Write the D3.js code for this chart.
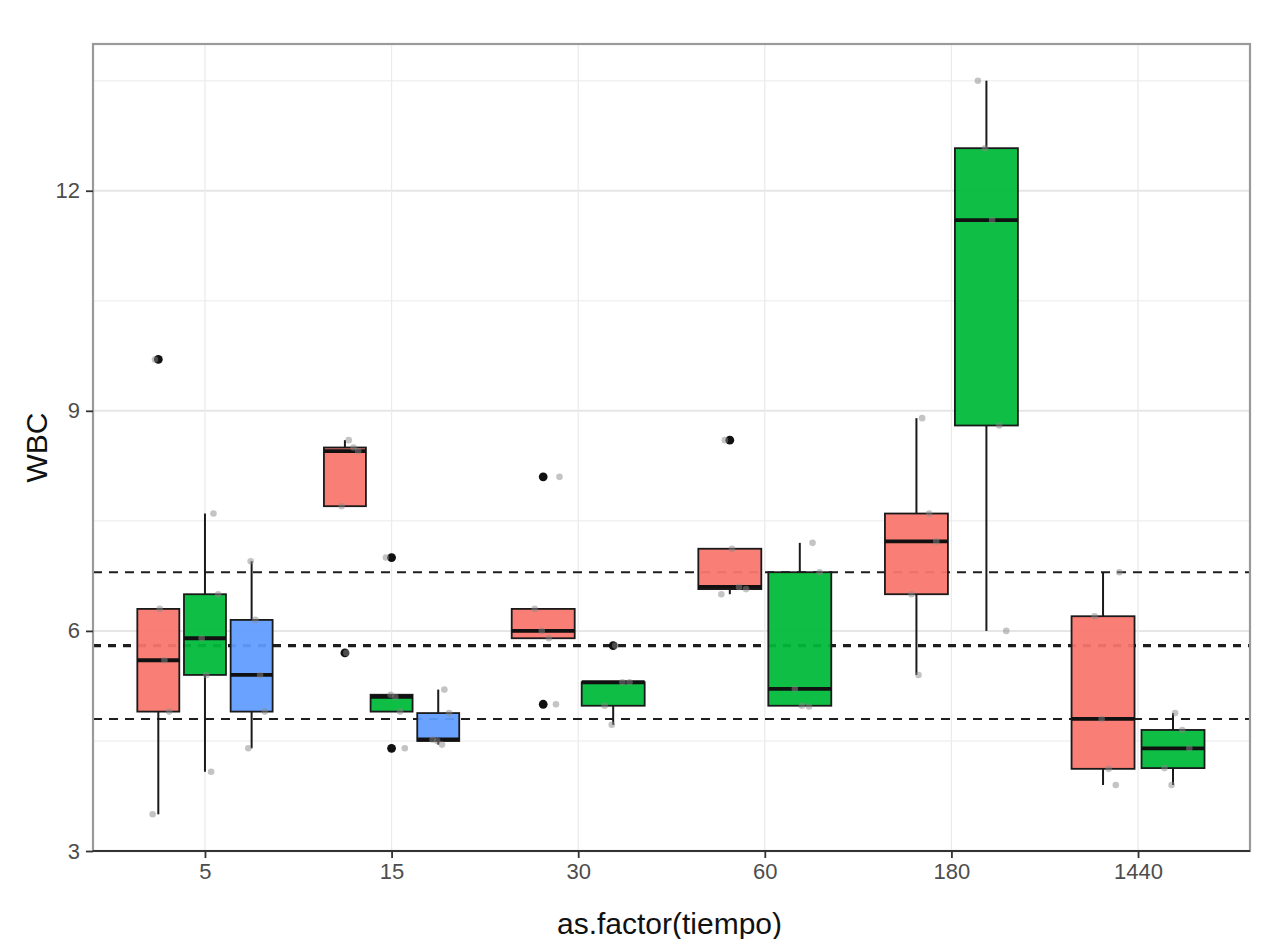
<!DOCTYPE html>
<html>
<head>
<meta charset="utf-8">
<script src="https://cdn.jsdelivr.net/npm/d3@7"></script>
<style>
  body { margin: 0; background: #ffffff; }
  text { font-family: "Liberation Sans", Arial, sans-serif; }
</style>
</head>
<body>
<svg id="chart" width="1263" height="939"></svg>
<script>
// WBC by time point, one series per group
const tiempos = ["5", "15", "30", "60", "180", "1440"];
const grupos = ["A", "B", "C"];
const colores = ["#F8766D", "#00BA38", "#619CFF"];

const wbcA = [
  [3.5, 4.9, 5.6, 6.3, 9.7],
  [5.7, 7.7, 8.45, 8.5, 8.6],
  [5.0, 5.9, 6.0, 6.3, 8.1],
  [6.5, 6.57, 6.6, 7.12, 8.6],
  [5.4, 6.5, 7.22, 7.6, 8.9],
  [3.9, 4.12, 4.8, 6.2, 6.8]
];
const wbcB = [
  [4.08, 5.4, 5.9, 6.5, 7.6],
  [4.4, 4.9, 5.1, 5.13, 7.0],
  [4.72, 4.98, 5.3, 5.3, 5.8],
  [4.97, 4.98, 5.21, 6.8, 7.2],
  [6.0, 8.8, 11.6, 12.58, 13.5],
  [3.9, 4.13, 4.4, 4.65, 4.88]
];
const wbcC = [
  [4.4, 4.9, 5.4, 6.15, 6.95],
  [4.45, 4.5, 4.52, 4.88, 5.2],
  null, null, null, null
];
const series = [wbcA, wbcB, wbcC];

// horizontal reference levels
const referencias = [4.8, 5.8, 6.8];
const referenciaCentral = 5.8;

const yTicks = [3, 6, 9, 12];
const yMinor = [4.5, 7.5, 10.5, 13.5];

const svg = d3.select("#chart");
const panel = { left: 93, right: 1250, top: 44, bottom: 851 };

const x = d3.scalePoint().domain(tiempos).range([panel.left, panel.right]).padding(0.6);
const y = d3.scaleLinear().domain([3, 14]).range([panel.bottom, panel.top]);
const step = x.step();

// grid
const grid = svg.append("g");
grid.selectAll("line.minor").data(yMinor).join("line")
  .attr("x1", panel.left).attr("x2", panel.right)
  .attr("y1", d => y(d)).attr("y2", d => y(d))
  .attr("stroke", "#f1f1f1").attr("stroke-width", 1.5);
grid.selectAll("line.major").data(yTicks.slice(1)).join("line")
  .attr("x1", panel.left).attr("x2", panel.right)
  .attr("y1", d => y(d)).attr("y2", d => y(d))
  .attr("stroke", "#e6e6e6").attr("stroke-width", 2);
grid.selectAll("line.vert").data(tiempos).join("line")
  .attr("x1", d => x(d)).attr("x2", d => x(d))
  .attr("y1", panel.top).attr("y2", panel.bottom)
  .attr("stroke", "#ebebeb").attr("stroke-width", 1.3);

// reference lines
svg.append("g").selectAll("line").data(referencias).join("line")
  .attr("x1", panel.left).attr("x2", panel.right)
  .attr("y1", d => y(d)).attr("y2", d => y(d))
  .attr("stroke", "#1e1e1e")
  .attr("stroke-width", d => d === referenciaCentral ? 3.2 : 1.9)
  .attr("stroke-dasharray", d => d === referenciaCentral ? "8,7" : "9,7");

// boxplots
const cajas = [];
tiempos.forEach((t, ti) => {
  const presentes = series.map((s, gi) => ({ gi, vals: s[ti] })).filter(d => d.vals);
  const n = presentes.length;
  const slot = 0.75 * step / n;
  presentes.forEach((p, k) => {
    const vals = p.vals.slice().sort(d3.ascending);
    const q1 = d3.quantile(vals, 0.25);
    const med = d3.quantile(vals, 0.5);
    const q3 = d3.quantile(vals, 0.75);
    const iqr = q3 - q1;
    const inliers = vals.filter(v => v >= q1 - 1.5 * iqr && v <= q3 + 1.5 * iqr);
    const outliers = vals.filter(v => v < q1 - 1.5 * iqr || v > q3 + 1.5 * iqr);
    cajas.push({
      ti, gi: p.gi, vals, q1, med, q3,
      lo: d3.min(inliers), hi: d3.max(inliers), outliers,
      cx: x(t) + (k - (n - 1) / 2) * slot,
      w: 0.9 * slot
    });
  });
});

const g = svg.append("g");
cajas.forEach(c => {
  const b = g.append("g");
  b.append("line").attr("x1", c.cx).attr("x2", c.cx)
    .attr("y1", y(c.hi)).attr("y2", y(c.q3))
    .attr("stroke", "#1a1a1a").attr("stroke-width", 2);
  b.append("line").attr("x1", c.cx).attr("x2", c.cx)
    .attr("y1", y(c.q1)).attr("y2", y(c.lo))
    .attr("stroke", "#1a1a1a").attr("stroke-width", 2);
  b.append("rect")
    .attr("x", c.cx - c.w / 2).attr("width", c.w)
    .attr("y", y(c.q3)).attr("height", Math.max(1, y(c.q1) - y(c.q3)))
    .attr("fill", colores[c.gi]).attr("fill-opacity", 0.94)
    .attr("stroke", "#1a1a1a").attr("stroke-width", 1.8);
  b.append("line").attr("x1", c.cx - c.w / 2).attr("x2", c.cx + c.w / 2)
    .attr("y1", y(c.med)).attr("y2", y(c.med))
    .attr("stroke", "#111").attr("stroke-width", 3.8);
  b.selectAll("circle").data(c.outliers).join("circle")
    .attr("cx", c.cx).attr("cy", d => y(d)).attr("r", 4.4)
    .attr("fill", "#111");
});

// jittered raw observations
const jitter = (i, ti, gi) => ((((i * 7 + ti * 3 + gi * 5) % 9) / 8) - 0.3) * 0.45;
cajas.forEach(c => {
  g.append("g").selectAll("circle").data(c.vals).join("circle")
    .attr("cx", (d, i) => c.cx + jitter(i, c.ti, c.gi) * c.w)
    .attr("cy", d => y(d)).attr("r", 3.3)
    .attr("fill", "#8a8a8a").attr("fill-opacity", 0.5);
});

// panel frame and axes
svg.append("rect")
  .attr("x", panel.left).attr("y", panel.top)
  .attr("width", panel.right - panel.left).attr("height", panel.bottom - panel.top)
  .attr("fill", "none").attr("stroke", "#9a9a9a").attr("stroke-width", 2.2);
svg.append("line")
  .attr("x1", panel.left).attr("x2", panel.right)
  .attr("y1", panel.bottom).attr("y2", panel.bottom)
  .attr("stroke", "#333").attr("stroke-width", 2.2);

const yAxis = svg.append("g").attr("transform", `translate(${panel.left},0)`)
  .call(d3.axisLeft(y).tickValues(yTicks).tickSize(7).tickPadding(6).tickFormat(d3.format("d")));
yAxis.select(".domain").remove();
yAxis.selectAll(".tick line").attr("stroke", "#333").attr("stroke-width", 1.8);
yAxis.selectAll(".tick text").attr("fill", "#4d4d4d").style("font-size", "22px");

const xAxis = svg.append("g").attr("transform", `translate(0,${panel.bottom})`)
  .call(d3.axisBottom(x).tickSize(7).tickPadding(5));
xAxis.select(".domain").remove();
xAxis.selectAll(".tick line").attr("stroke", "#333").attr("stroke-width", 1.8);
xAxis.selectAll(".tick text").attr("fill", "#4d4d4d").style("font-size", "22px");

// axis titles
svg.append("text")
  .attr("x", (panel.left + panel.right) / 2 - 2).attr("y", 934)
  .attr("text-anchor", "middle").attr("fill", "#111")
  .style("font-size", "30px").text("as.factor(tiempo)");
svg.append("text")
  .attr("transform", `translate(47,${(panel.top + panel.bottom) / 2}) rotate(-90)`)
  .attr("text-anchor", "middle").attr("fill", "#111")
  .style("font-size", "30px").text("WBC");
</script>
</body>
</html>
